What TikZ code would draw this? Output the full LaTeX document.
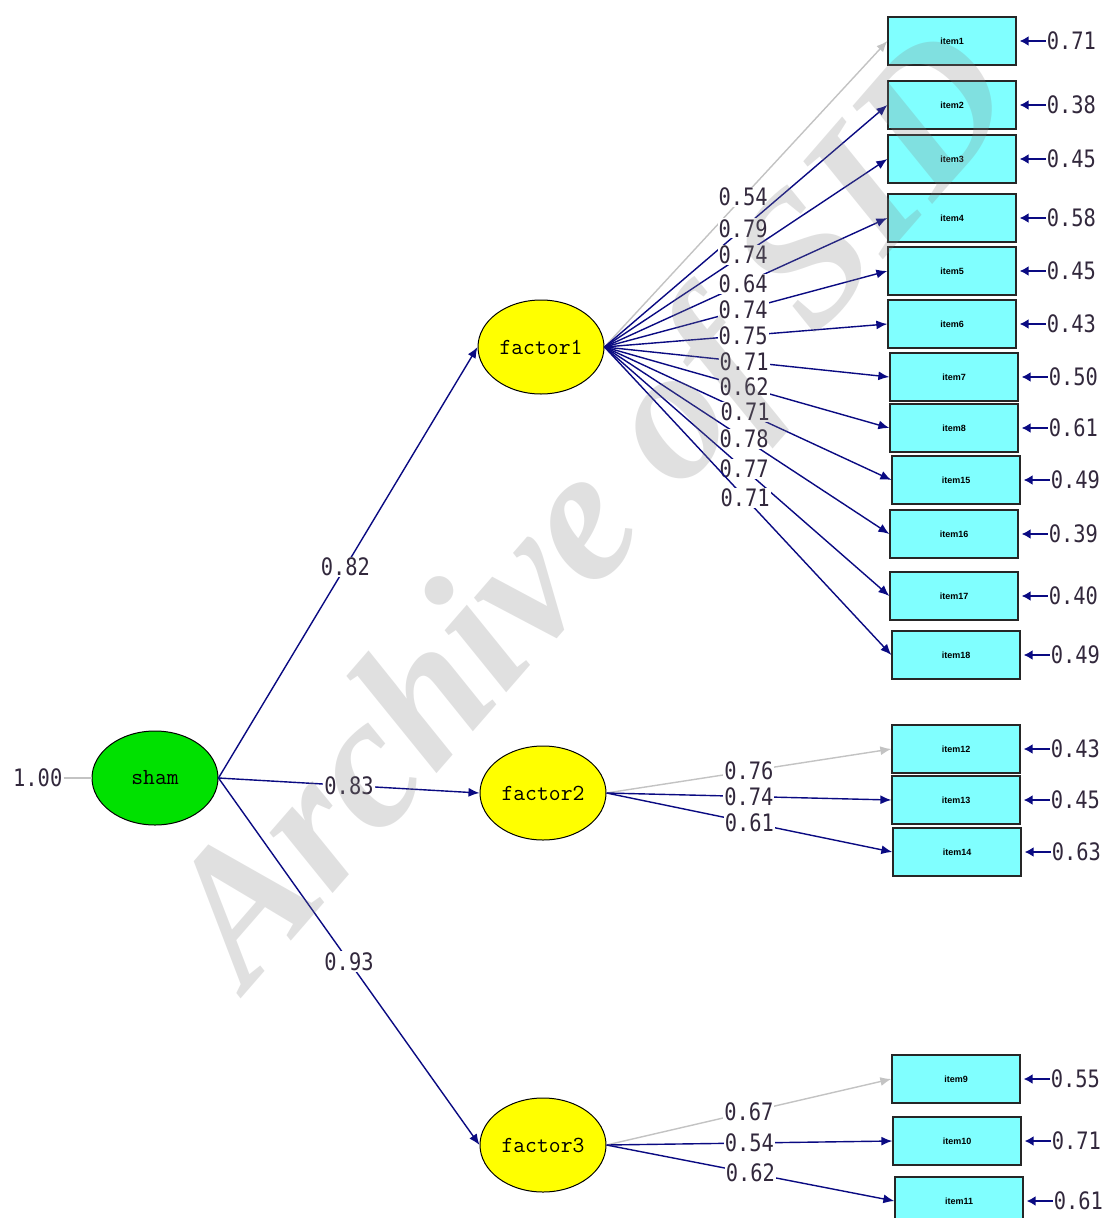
\documentclass[tikz,border=0pt]{standalone}
\usepackage{fontspec}
\usetikzlibrary{positioning,arrows.meta,shapes.geometric}
\newfontfamily\numfont[FakeStretch=0.85]{DejaVu Sans Mono}
\newfontfamily\itemfont{Liberation Sans}
\newfontfamily\markfont{Liberation Serif}
\definecolor{pathblue}{RGB}{10,10,130}
\definecolor{fixgray}{RGB}{195,195,195}
\definecolor{numdark}{RGB}{50,40,60}
\definecolor{boxcyan}{RGB}{128,255,255}
\definecolor{shamgreen}{RGB}{0,225,0}
\definecolor{factyellow}{RGB}{255,255,0}
\begin{document}
\begin{tikzpicture}[x=1pt,y=-1pt,
    latent/.style={ellipse,draw=black,line width=1pt,fill=factyellow,
      minimum width=126pt,minimum height=94pt,inner sep=0pt,
      font=\ttfamily\fontsize{23}{23}\selectfont},
    itembox/.style={rectangle,draw=black!85,line width=1.3pt,fill=boxcyan,
      minimum width=128pt,minimum height=48pt,inner sep=0pt,
      font=\itemfont\bfseries\fontsize{9}{9}\selectfont},
    num/.style={inner sep=1pt,text=numdark,font=\numfont\fontsize{24}{24}\selectfont},
    load/.style={num,fill=white,pos=0.49},
    path/.style={draw=pathblue,line width=1.4pt,-{Latex[length=11pt,width=9pt]}},
    fixed/.style={draw=fixgray,line width=1.4pt,-{Latex[length=11pt,width=9pt]}},
    err/.style={draw=pathblue,line width=2.2pt,-{Latex[length=9pt,width=10pt]},shorten >=3pt}]
  \useasboundingbox (0,0) rectangle (1105,1218);
  \fill[white] (0,0) rectangle (1105,1218);
  \node[latent,fill=shamgreen] (sham) at (155,778) {sham};
  \node[latent] (f1) at (541,347) {factor1};
  \node[latent] (f2) at (543,793) {factor2};
  \node[latent] (f3) at (543,1145) {factor3};
  \node[num,left=28pt of sham] (v0) {1.00};
  \draw[fixgray,line width=1.4pt] (v0) -- (sham);

  \node[itembox] (i1) at (952,41) {item1};
  \node[itembox] (i2) at (952,105) {item2};
  \node[itembox] (i3) at (952,159) {item3};
  \node[itembox] (i4) at (952,218) {item4};
  \node[itembox] (i5) at (952,271) {item5};
  \node[itembox] (i6) at (952,324) {item6};
  \node[itembox] (i7) at (954,377) {item7};
  \node[itembox] (i8) at (954,428) {item8};
  \node[itembox] (i15) at (956,480) {item15};
  \node[itembox] (i16) at (954,534) {item16};
  \node[itembox] (i17) at (954,596) {item17};
  \node[itembox] (i18) at (956,655) {item18};
  \node[itembox] (i12) at (956,749) {item12};
  \node[itembox] (i13) at (956,800) {item13};
  \node[itembox] (i14) at (957,852) {item14};
  \node[itembox] (i9) at (956,1079) {item9};
  \node[itembox] (i10) at (957,1141) {item10};
  \node[itembox] (i11) at (959,1201) {item11};

  \node[num,right=29pt of i1] (e1) {0.71};
  \node[num,right=29pt of i2] (e2) {0.38};
  \node[num,right=29pt of i3] (e3) {0.45};
  \node[num,right=29pt of i4] (e4) {0.58};
  \node[num,right=29pt of i5] (e5) {0.45};
  \node[num,right=29pt of i6] (e6) {0.43};
  \node[num,right=29pt of i7] (e7) {0.50};
  \node[num,right=29pt of i8] (e8) {0.61};
  \node[num,right=29pt of i15] (e15) {0.49};
  \node[num,right=29pt of i16] (e16) {0.39};
  \node[num,right=29pt of i17] (e17) {0.40};
  \node[num,right=29pt of i18] (e18) {0.49};
  \node[num,right=29pt of i12] (e12) {0.43};
  \node[num,right=29pt of i13] (e13) {0.45};
  \node[num,right=29pt of i14] (e14) {0.63};
  \node[num,right=29pt of i9] (e9) {0.55};
  \node[num,right=29pt of i10] (e10) {0.71};
  \node[num,right=29pt of i11] (e11) {0.61};
  \foreach \k in {1,...,18} \draw[err] (e\k.west) -- (i\k.east);

  \draw[path] (sham.east) -- node[load] {0.82} (f1.west);
  \draw[path] (sham.east) -- node[load,pos=0.5] {0.83} (f2.west);
  \draw[path] (sham.east) -- node[load,pos=0.5] {0.93} (f3.west);

  \draw[fixed] (f1.east) -- node[load] {0.54} (i1.west);
  \draw[path] (f1.east) -- node[load] {0.79} (i2.west);
  \draw[path] (f1.east) -- node[load] {0.74} (i3.west);
  \draw[path] (f1.east) -- node[load] {0.64} (i4.west);
  \draw[path] (f1.east) -- node[load] {0.74} (i5.west);
  \draw[path] (f1.east) -- node[load] {0.75} (i6.west);
  \draw[path] (f1.east) -- node[load] {0.71} (i7.west);
  \draw[path] (f1.east) -- node[load] {0.62} (i8.west);
  \draw[path] (f1.east) -- node[load] {0.71} (i15.west);
  \draw[path] (f1.east) -- node[load] {0.78} (i16.west);
  \draw[path] (f1.east) -- node[load] {0.77} (i17.west);
  \draw[path] (f1.east) -- node[load] {0.71} (i18.west);

  \draw[fixed] (f2.east) -- node[load,pos=0.5] {0.76} (i12.west);
  \draw[path] (f2.east) -- node[load,pos=0.5] {0.74} (i13.west);
  \draw[path] (f2.east) -- node[load,pos=0.5] {0.61} (i14.west);

  \draw[fixed] (f3.east) -- node[load,pos=0.5] {0.67} (i9.west);
  \draw[path] (f3.east) -- node[load,pos=0.5] {0.54} (i10.west);
  \draw[path] (f3.east) -- node[load,pos=0.5] {0.62} (i11.west);

  \node[rotate=49,text=gray,opacity=0.24,font=\markfont\bfseries\itshape\fontsize{190}{190}\selectfont]
    (mark) at (600,515) {Archive of SID};
\end{tikzpicture}
\end{document}
